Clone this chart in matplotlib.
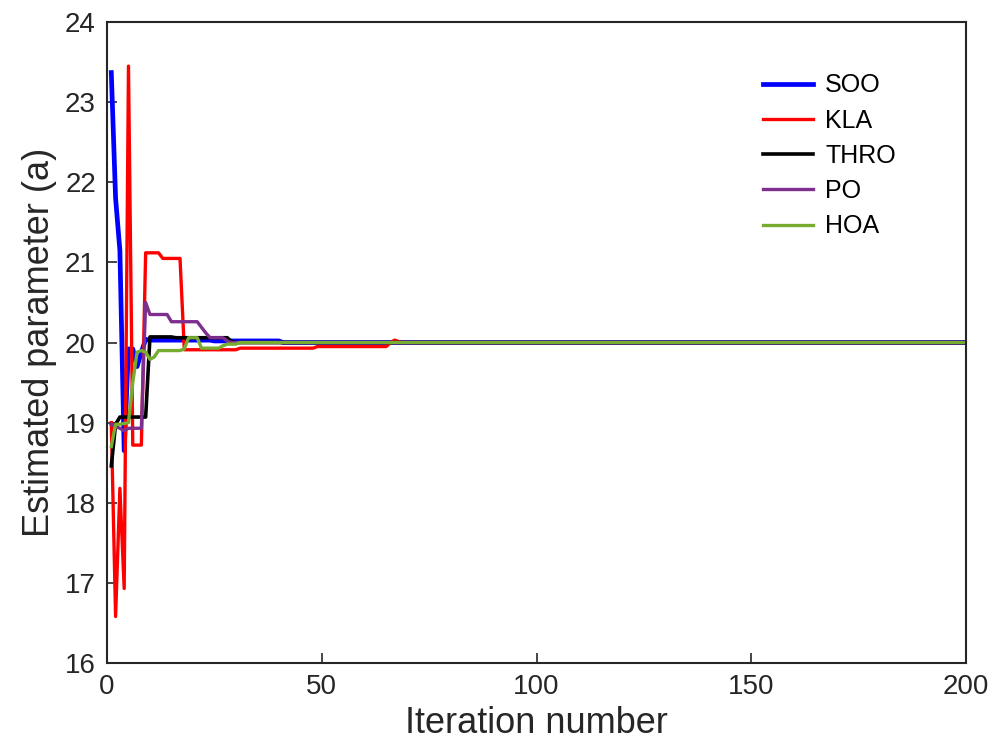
import numpy as np
import matplotlib
matplotlib.use('Agg')
import matplotlib.pyplot as plt

plt.rcParams['font.family'] = ['Liberation Sans', 'DejaVu Sans']

n_iter = 200
iters = np.arange(1, n_iter + 1)

# values, early iterations, then the converged value
soo = ([23.37, 21.80, 21.15, 18.65, 19.92, 19.92, 19.70, 19.88, 20.04]
       + [20.03] * 15 + [20.02] * 16)
kla = ([19.00, 16.58, 18.18, 16.93, 23.45, 18.72, 18.72, 18.72]
       + [21.12] * 4 + [21.05] * 5 + [19.91] * 13 + [19.93] * 18
       + [19.95] * 17 + [20.00, 20.03, 20.01])
thro = [18.46, 18.98] + [19.07] * 7 + [20.07] * 6 + [20.06] * 13 + [20.01]
po = ([18.98, 18.95, 18.93, 18.90, 18.93, 18.93, 18.93, 18.93, 20.50]
      + [20.35] * 5 + [20.26] * 7 + [20.19, 20.12] + [20.06] * 4 + [20.02])
hoa = ([18.70, 18.98, 18.98, 18.99, 19.00, 19.50, 19.88, 19.90, 19.88,
        19.79, 19.82] + [19.90] * 6 + [19.92] + [20.06] * 3 + [19.93] * 5
       + [19.96] + [19.98] * 3)
final = 20.0

names = ['SOO', 'KLA', 'THRO', 'PO', 'HOA']
colors = ['#0000ff', '#ff0000', '#000000', '#7e2f8e', '#77ac30']
widths = [3.4, 2.4, 2.6, 2.4, 2.4]

fig = plt.figure(figsize=(10, 7.54), dpi=100)
ax = fig.add_axes([0.107, 0.1207, 0.859, 0.850])

for vals, name, c, lw in zip([soo, kla, thro, po, hoa], names, colors, widths):
    y = np.array(vals + [final] * (n_iter - len(vals)))
    ax.plot(iters, y, color=c, lw=lw, label=name)

ax.set_xlim(0, 200)
ax.set_ylim(16, 24)
ax.set_xticks([0, 50, 100, 150, 200])
ax.set_yticks(range(16, 25))
ax.tick_params(direction='in', length=7, width=1.2, labelsize=20,
               colors='#262626', pad=8)
for s in ax.spines.values():
    s.set_linewidth(1.5)
    s.set_color('#262626')
ax.set_xlabel('Iteration number', fontsize=26, color='#262626', labelpad=4)
ax.set_ylabel('Estimated parameter (a)', fontsize=26, color='#262626', labelpad=6)

ax.legend(loc='upper left', bbox_to_anchor=(0.737, 0.955), frameon=False,
          fontsize=18, handlelength=2.0, handletextpad=0.5, labelspacing=0.45)

fig.savefig('out.png', dpi=100)
